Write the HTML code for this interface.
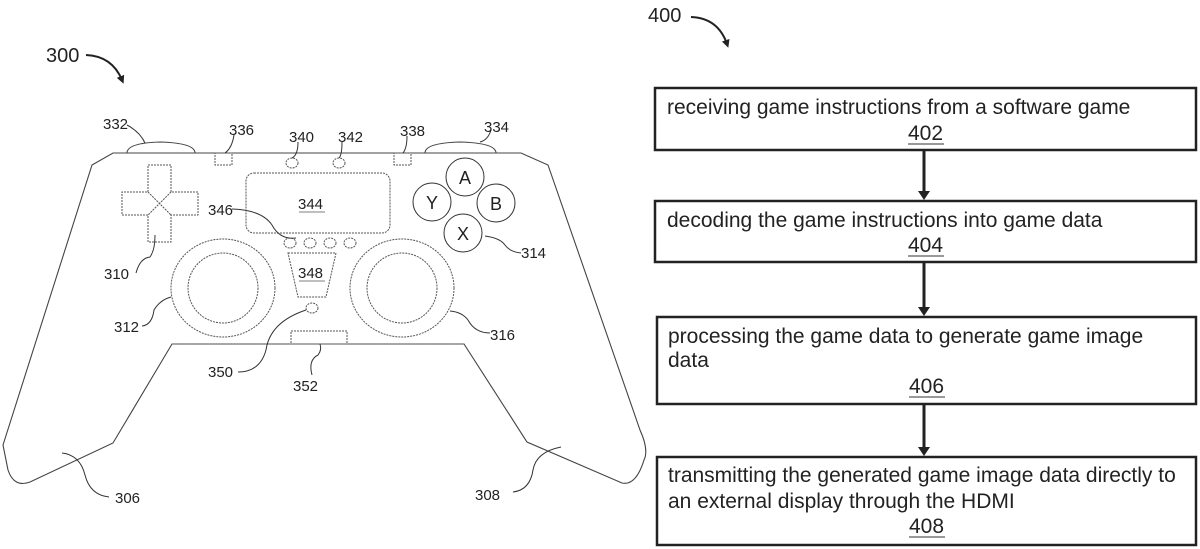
<!DOCTYPE html>
<html><head><meta charset="utf-8"><style>
html,body{margin:0;padding:0;background:#fff;}
svg{display:block;}
text{font-family:"Liberation Sans",sans-serif;fill:#222;}
</style></head><body>
<svg width="1200" height="549" viewBox="0 0 1200 549" xmlns="http://www.w3.org/2000/svg">
<defs>
<marker id="ah" viewBox="0 0 10 10" refX="5" refY="5" markerWidth="4" markerHeight="4" orient="auto"><path d="M0,0 L10,5 L0,10 z" fill="#222"/></marker>
</defs>
<g fill="none" stroke="#444" stroke-width="1.1">
<path d="M113,153 L521,153 L548,165 L640,430 Q649,450 644,460 Q636,486 622,483 L527,442 L464,344 L172,344 L113,443 L30,482 Q14,488 8,470 L3,445 L92,165 Z"/>
<path d="M127,153 Q127,143 160,142 Q195,143 195,153" />
<path d="M425,153 Q425,143 460,142 Q496,143 496,153" />
</g>
<g fill="none" stroke="#555" stroke-width="1" stroke-dasharray="2,1">
<rect x="215" y="153" width="17" height="12"/>
<rect x="394" y="153" width="17" height="12"/>
<ellipse cx="292" cy="163" rx="6" ry="5"/>
<ellipse cx="339" cy="163" rx="6" ry="5"/>
<rect x="246" y="173" width="144" height="60" rx="8"/>
<path d="M148,165 H171 V192 H198 V215 H171 V242 H148 V215 H122 V192 H148 Z"/>
<path d="M148,192 L171,215 M171,192 L148,215"/>
<ellipse cx="290" cy="243" rx="6" ry="5"/>
<ellipse cx="310" cy="243" rx="6" ry="5"/>
<ellipse cx="330" cy="243" rx="6" ry="5"/>
<ellipse cx="350" cy="243" rx="6" ry="5"/>
<path d="M288,253 H336 L326,297 H298 Z"/>
<ellipse cx="223" cy="288" rx="52" ry="49"/>
<ellipse cx="223" cy="288" rx="35" ry="35"/>
<ellipse cx="402" cy="288" rx="52" ry="49"/>
<ellipse cx="402" cy="288" rx="35" ry="35"/>
<ellipse cx="312" cy="308" rx="6" ry="5"/>
<rect x="291" y="331" width="56" height="13"/>
<path d="M172,344 H464"/>
</g>
<g fill="none" stroke="#333" stroke-width="1">
<circle cx="465" cy="177" r="19"/>
<circle cx="432" cy="202" r="19"/>
<circle cx="496" cy="203" r="19"/>
<circle cx="463" cy="233" r="19"/>
<path d="M127,125 Q140,132 145,143"/>
<path d="M234,135 Q232,148 225,153"/>
<path d="M298,142 Q298,155 292,158"/>
<path d="M342,142 Q342,155 339,158"/>
<path d="M407,136 Q407,148 403,153"/>
<path d="M491,130 Q488,140 480,142"/>
<path d="M232,209 Q262,210 272,225 Q280,240 296,238"/>
<path d="M136,273 Q140,258 150,257 Q155,250 155,235"/>
<path d="M485,236 Q500,238 505,245 Q510,252 521,253"/>
<path d="M142,326 Q152,325 154,310 Q160,300 171,297"/>
<path d="M450,311 Q462,312 468,320 Q475,333 490,333"/>
<path d="M238,372 Q260,372 266,350 Q270,322 306,310"/>
<path d="M312,375 Q308,360 318,355 Q322,350 320,344"/>
<path d="M62,453 Q80,455 85,475 Q90,495 109,497"/>
<path d="M513,492 Q530,490 533,470 Q536,452 561,447"/>
</g>
<g font-size="15">
<text x="103" y="129">332</text>
<text x="229" y="135">336</text>
<text x="289" y="142">340</text>
<text x="338" y="142">342</text>
<text x="400" y="136">338</text>
<text x="484" y="132">334</text>
<text x="298" y="209">344</text>
<text x="208" y="215">346</text>
<text x="104" y="279">310</text>
<text x="521" y="258">314</text>
<text x="298" y="278">348</text>
<text x="465" y="184" font-size="18" text-anchor="middle">A</text>
<text x="432" y="209" font-size="18" text-anchor="middle">Y</text>
<text x="496" y="210" font-size="18" text-anchor="middle">B</text>
<text x="463" y="240" font-size="18" text-anchor="middle">X</text>
<text x="114" y="332">312</text>
<text x="490" y="340">316</text>
<text x="208" y="377">350</text>
<text x="293" y="391">352</text>
<text x="115" y="503">306</text>
<text x="475" y="500">308</text>
</g>
<g stroke="#555" stroke-width="0.7">
<path d="M299,212 H325 M299,281 H325"/>
</g>
<text x="46" y="62" font-size="20">300</text>
<path d="M86,55 Q112,56 122,80" fill="none" stroke="#222" stroke-width="2" marker-end="url(#ah)"/>
<text x="648" y="22" font-size="20">400</text>
<path d="M691,17 Q718,18 727,44" fill="none" stroke="#222" stroke-width="2" marker-end="url(#ah)"/>
<g fill="none" stroke="#222" stroke-width="2.5">
<rect x="655" y="88" width="541" height="62"/>
<rect x="655" y="201" width="541" height="61"/>
<rect x="657" y="317" width="539" height="87"/>
<rect x="657" y="457" width="539" height="88"/>
</g>
<g stroke="#222" stroke-width="3">
<path d="M924,150 V192 M924,262 V308 M924,404 V448"/>
</g>
<g fill="#222">
<path d="M918,191 L930,191 L924,200 Z"/>
<path d="M918,307 L930,307 L924,316 Z"/>
<path d="M918,447 L930,447 L924,456 Z"/>
</g>
<g font-size="21">
<text x="667" y="114">receiving game instructions from a software game</text>
<text x="908" y="140">402</text>
<text x="667" y="227">decoding the game instructions into game data</text>
<text x="908" y="252">404</text>
<text x="668" y="343">processing the game data to generate game image</text>
<text x="668" y="367">data</text>
<text x="909" y="393">406</text>
<text x="668" y="482">transmitting the generated game image data directly to</text>
<text x="668" y="508">an external display through the HDMI</text>
<text x="909" y="533">408</text>
</g>
<g stroke="#333" stroke-width="1">
<path d="M908,144 H944 M908,256 H944 M909,397 H945 M909,537 H945"/>
</g>
</svg>
</body></html>
